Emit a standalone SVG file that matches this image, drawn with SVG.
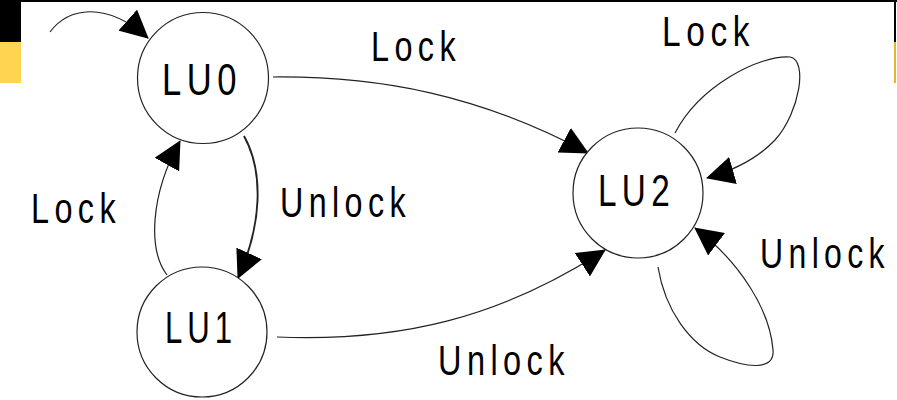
<svg xmlns="http://www.w3.org/2000/svg" width="897" height="400" viewBox="0 0 897 400">
  <style>
    .node circle { fill: #fff; stroke: #222; stroke-width: 1.2; }
    .node text, .lbl { font-family: "Liberation Sans", Arial, sans-serif; fill: #000; letter-spacing: 7px; }
    .node text { font-size: 44px; }
    .lbl { font-size: 42px; }
    .edge { fill: none; stroke: #222; stroke-width: 1.2; marker-end: url(#arrow); }
  </style>
  <defs>
    <marker id="arrow" viewBox="0 0 28 28" refX="27" refY="14" markerWidth="28" markerHeight="28" markerUnits="userSpaceOnUse" orient="auto">
      <path d="M0,0 L28,14 L0,28 z" fill="#000"/>
    </marker>
  </defs>

  <rect width="897" height="400" fill="#fff"/>
  <!-- page frame fragments -->
  <rect x="0" y="0" width="21" height="42" fill="#000"/>
  <rect x="0" y="42" width="21" height="41" fill="#FED550"/>
  <rect x="21" y="0" width="876" height="2" fill="#000"/>
  <rect x="894" y="0" width="2" height="42" fill="#000"/>
  <rect x="894" y="42" width="2" height="41" fill="#E6B52A"/>

  <g id="connectors">
    <!-- initial transition -->
    <path class="edge" d="M50,32 C68,8 105,0 148,38"/>
    <!-- LU0 -> LU2 Lock -->
    <path class="edge" d="M273,77 C380,76 480,95 588,153"/>
    <!-- LU0 -> LU1 Unlock -->
    <path class="edge" style="stroke-width:1.9" d="M244,136 C264,172 262,225 238,278"/>
    <!-- LU1 -> LU0 Lock -->
    <path class="edge" d="M167,275 C148,250 150,195 180,141"/>
    <!-- LU1 -> LU2 Unlock -->
    <path class="edge" d="M277,337 C400,342 500,318 605,250"/>
    <!-- LU2 self-loop Lock -->
    <path class="edge" d="M675,133 C700,85 760,55 790,57 C808,60 800,112 775,140 C758,158 735,170 707,178"/>
    <!-- LU2 self-loop Unlock -->
    <path class="edge" d="M658,267 C665,310 690,345 720,357 C745,367 775,372 773,350 C770,310 740,262 695,228"/>
  </g>

  <g id="labels">
    <text class="lbl" x="371" y="61" textLength="90" lengthAdjust="spacingAndGlyphs">Lock</text>
    <text class="lbl" x="662" y="46" textLength="93" lengthAdjust="spacingAndGlyphs">Lock</text>
    <text class="lbl" x="31" y="223" textLength="90" lengthAdjust="spacingAndGlyphs">Lock</text>
    <text class="lbl" x="280" y="217" textLength="131" lengthAdjust="spacingAndGlyphs">Unlock</text>
    <text class="lbl" x="438" y="375" textLength="132" lengthAdjust="spacingAndGlyphs">Unlock</text>
    <!-- condensed with a transform so its box stays inside the frame -->
    <text class="lbl" x="0" y="0" transform="translate(760,268) scale(0.763,1)">Unlock</text>
  </g>

  <g id="LU0" class="node">
    <circle cx="203" cy="78" r="65.5"/>
    <text x="162" y="95" textLength="80" lengthAdjust="spacingAndGlyphs">LU0</text>
  </g>
  <g id="LU1" class="node">
    <circle cx="202" cy="332" r="65"/>
    <text x="165" y="343" textLength="72" lengthAdjust="spacingAndGlyphs">LU1</text>
  </g>
  <g id="LU2" class="node">
    <circle cx="638" cy="193" r="65"/>
    <text x="598" y="206" textLength="77" lengthAdjust="spacingAndGlyphs">LU2</text>
  </g>
</svg>
